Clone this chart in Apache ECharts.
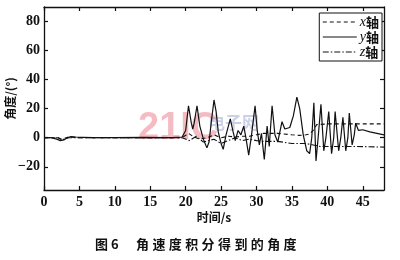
<!DOCTYPE html>
<html><head><meta charset="utf-8">
<script src="https://cdn.jsdelivr.net/npm/echarts@6/dist/echarts.min.js"></script>
<style>html,body{margin:0;padding:0;background:#fff}#c{width:400px;height:260px}</style>
</head><body><div id="c"></div>
<script>
// ---- data ----
const seriesNames = ['x轴', 'y轴', 'z轴'];
const xTickValues = [0, 5, 10, 15, 20, 25, 30, 35, 40, 45];
const yTickValues = [-20, 0, 20, 40, 60, 80];

// y-axis (solid)
const tY = [0, 1, 1.8, 2.3, 2.8, 3.3, 3.8, 4.5, 5.5, 7, 10, 14, 18, 19.5, 20, 20.4, 20.8, 21.0, 21.2, 21.6, 22.0, 22.5, 23.0, 23.3, 23.6, 24.0, 24.3, 24.6, 25.0, 25.3, 25.7, 26.3, 26.7, 27.0, 27.4, 27.8, 28.2, 28.5, 28.9, 29.3, 29.8, 30.1, 30.4, 30.7, 31.1, 31.5, 31.8, 32.2, 32.6, 33.0, 33.6, 34.0, 34.7, 35.2, 35.7, 36.1, 36.6, 37.1, 37.5, 37.8, 38.1, 38.4, 38.7, 39.1, 39.5, 39.8, 40.2, 40.6, 40.9, 41.1, 41.6, 41.9, 42.2, 42.6, 42.9, 43.1, 43.5, 43.8, 44.0, 44.4, 45, 46, 47, 48];
const yVals = [0, 0, -1, -2, -1.5, 0, 0.8, 0.5, 0.3, 0, 0, 0.3, 0, 0.5, 5, 22, 10, 6, 10, 22, 8, -1, -7, -3, 10, 26, 18, 4, -4, -8, 2, 13, 4, -2, 5, 2, 8, 0, -12, 2, 22, 5, -5, 3, -15, 8, -6, 22, 2, -3, 11, 6, 7, 15, 28, 20, 2, -9, -11, 0, 24, -16, 0, 23, -9, 0, 18, -11, 0, 18, -9, 0, 14, -9, 0, 17, -5, 2, 10, 5, 5.5, 4, 3, 2];

// x-axis (dashed)
const tX = [0, 2, 2.5, 3.5, 5, 10, 19.5, 20.4, 21, 22, 23, 24, 25, 26, 27, 28, 29, 30, 31, 33, 35, 36, 37, 37.5, 38, 38.5, 40, 44, 48];
const xVals = [0, 0, -1, 0.5, 0, 0, 0, 3, 1, -1, 0, 2, 0, 1, 0.5, 1, 1, 2, 3, 3, 2, 1.6, 2, 2.5, 5, 9, 9.5, 9.5, 9.5];

// z-axis (dash-dot)
const tZ = [0, 2, 2.5, 3.5, 5, 10, 19.5, 20.5, 21.5, 22.5, 24, 25, 26, 27, 28, 29, 30, 31, 33, 35, 37, 38, 39, 44, 48];
const zVals = [0, 0, -1.5, 0, 0, 0, 0, -2, 1, -3, -1, -4, -2, 0, -2, -1, -2, -2.5, -2.5, -4, -4, -5, -6, -6, -6.5];

const captionChars = ['图', '6', '', '角', '速', '度', '积', '分', '得', '到', '的', '角', '度'];

function pairs(t, v) { return t.map((x, i) => [x, v[i]]); }

const chart = echarts.init(document.getElementById('c'), null, {renderer: 'canvas'});
const serif = '"Liberation Serif", "DejaVu Serif", serif';
const axisCommon = {
  type: 'value',
  axisLine: {show: true, onZero: false, lineStyle: {color: '#111', width: 1.3}},
  axisTick: {show: true, inside: true, length: 4, lineStyle: {color: '#111', width: 1.2}},
  splitLine: {show: false}
};
const xMin = 0, xMax = 48, yMin = -36, yMax = 90;

const captionGraphics = [];
let cx = 95;
captionChars.forEach((ch, i) => {
  if (ch !== '') {
    captionGraphics.push({type: 'text', left: cx, top: 238, z: 10,
      style: {text: ch, font: 'bold 13px "Noto Sans CJK SC"', fill: '#111'}});
  }
  cx += (i === 0 ? 16 : (i === 1 ? 12 : (i === 2 ? 13 : 16.4)));
});

chart.setOption({
  animation: false,
  backgroundColor: '#fff',
  grid: {left: 44, right: 16, top: 7, bottom: 70, containLabel: false, outerBoundsMode: 'none'},
  graphic: [
    {type: 'text', left: 138, top: 110, z: -1, silent: true,
     style: {text: '21IC', font: 'bold 38px "Liberation Sans"', fill: 'rgba(235,120,135,0.5)'}},
    {type: 'text', left: 208, top: 114, z: -1, silent: true,
     style: {text: '电子网', font: 'bold 17px "Noto Sans CJK SC"', fill: 'rgba(140,150,200,0.45)'}}
  ].concat(captionGraphics),
  legend: {
    data: seriesNames,
    orient: 'vertical', right: 18, top: 13,
    backgroundColor: '#fff', borderColor: '#111', borderWidth: 1,
    padding: [2, 3, 2, 3], itemGap: 1, itemWidth: 34, itemHeight: 12,
    itemStyle: {color: 'rgba(0,0,0,0)', borderWidth: 0, opacity: 0},
    lineStyle: {width: 1},
    formatter: function (name) { return '{i|' + name.charAt(0) + '}{c|' + name.slice(1) + '}'; },
    textStyle: {
      rich: {
        i: {fontFamily: serif, fontStyle: 'italic', fontSize: 14, color: '#111'},
        c: {fontFamily: '"Noto Sans CJK SC"', fontSize: 13, color: '#111', fontWeight: 'bold'}
      },
      padding: [0, 0, 0, -2]
    }
  },
  xAxis: [
    Object.assign({}, axisCommon, {
      min: xMin, max: xMax, position: 'bottom',
      name: '时间/s', nameLocation: 'middle', nameGap: 21, nameMoveOverlap: false,
      nameTextStyle: {fontFamily: '"Noto Sans CJK SC"', fontSize: 12, color: '#111', fontWeight: 'bold'},
      axisTick: Object.assign({}, axisCommon.axisTick, {customValues: xTickValues}),
      axisLabel: {customValues: xTickValues, fontFamily: serif, fontSize: 14, fontWeight: 'bold', color: '#111', margin: 5}
    }),
    Object.assign({}, axisCommon, {
      min: xMin, max: xMax, position: 'top',
      axisTick: Object.assign({}, axisCommon.axisTick, {customValues: xTickValues}),
      axisLabel: {show: false}
    })
  ],
  yAxis: [
    Object.assign({}, axisCommon, {
      min: yMin, max: yMax, position: 'left',
      name: '角度/(°)', nameLocation: 'middle', nameGap: 28, nameRotate: 90, nameMoveOverlap: false,
      nameTextStyle: {fontFamily: '"Noto Sans CJK SC"', fontSize: 12, color: '#111', fontWeight: 'bold'},
      axisTick: Object.assign({}, axisCommon.axisTick, {customValues: yTickValues}),
      axisLabel: {customValues: yTickValues, fontFamily: serif, fontSize: 14, fontWeight: 'bold', color: '#111', margin: 4,
        formatter: v => (v < 0 ? '\u2212' + Math.abs(v) : String(v))}
    }),
    Object.assign({}, axisCommon, {
      min: yMin, max: yMax, position: 'right',
      axisTick: Object.assign({}, axisCommon.axisTick, {customValues: yTickValues}),
      axisLabel: {show: false}
    })
  ],
  series: [
    {name: seriesNames[0], type: 'line', data: pairs(tX, xVals), symbol: 'none',
     lineStyle: {color: '#111', width: 1.1, type: [4, 3]}, itemStyle: {color: '#111'}},
    {name: seriesNames[1], type: 'line', data: pairs(tY, yVals), symbol: 'none',
     lineStyle: {color: '#111', width: 1.2, type: 'solid'}, itemStyle: {color: '#111'}},
    {name: seriesNames[2], type: 'line', data: pairs(tZ, zVals), symbol: 'none',
     lineStyle: {color: '#111', width: 1.1, type: [6, 2, 1.5, 2]}, itemStyle: {color: '#111'}}
  ]
});
</script></body></html>
